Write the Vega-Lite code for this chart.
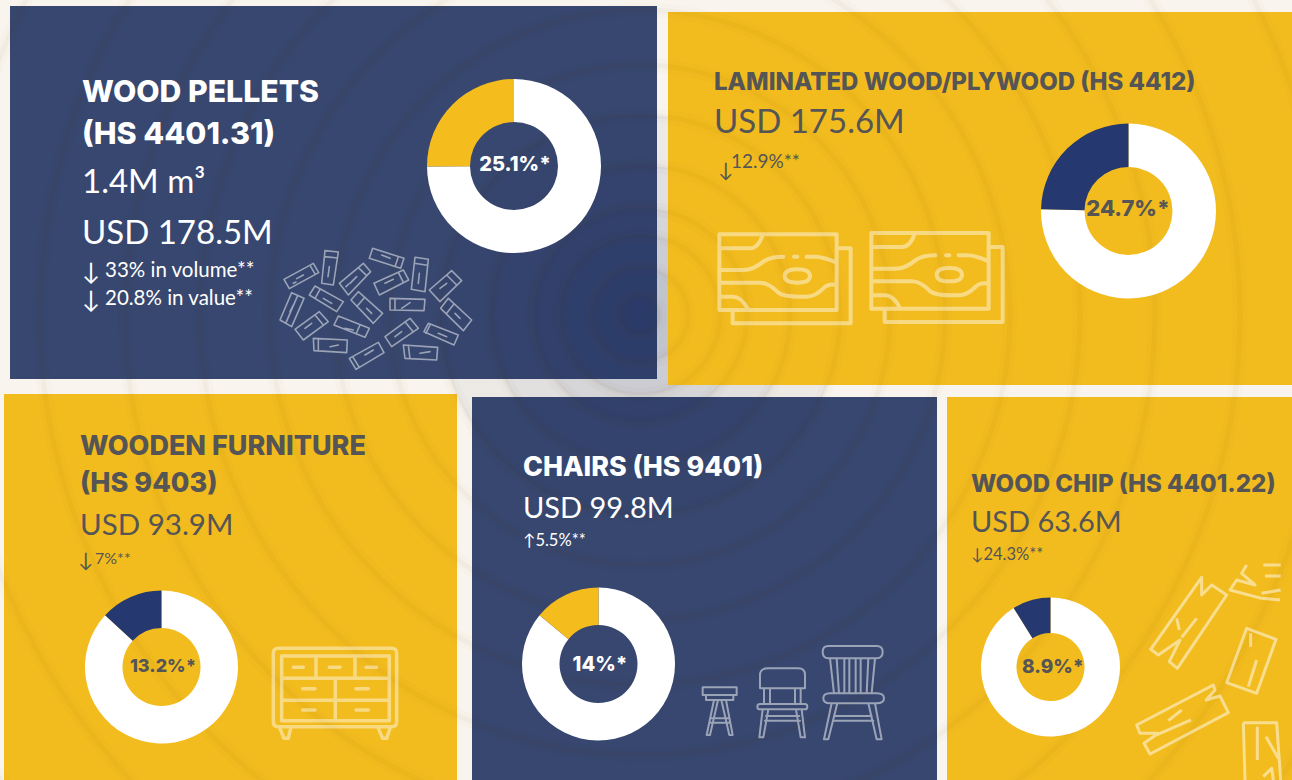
{"$schema":"https://vega.github.io/schema/vega-lite/v6.json","width":1292,"height":780,"padding":0,"autosize":{"type":"none"},"background":"#f9f5ee","config":{"view":{"stroke":null},"text":{"font":"Lato","baseline":"alphabetic"}},"encoding":{"x":{"datum":0,"type":"quantitative","scale":{"domain":[0,1292],"range":[0,1292],"nice":false,"zero":false},"axis":null},"y":{"datum":0,"type":"quantitative","scale":{"domain":[0,780],"range":[0,780],"nice":false,"zero":false},"axis":null}},"resolve":{"scale":{"color":"independent"}},"layer":[
{"data":{"values":[{"panel":"Wood pellets"}]},"mark":{"type":"rect","fill":"#37476f"},"encoding":{"x":{"datum":10},"x2":{"datum":657},"y":{"datum":6},"y2":{"datum":379}}},
{"data":{"values":[{"panel":"Chairs"}]},"mark":{"type":"rect","fill":"#37476f"},"encoding":{"x":{"datum":472},"x2":{"datum":937},"y":{"datum":397},"y2":{"datum":780}}},
{"data":{"values":[{"r":20},{"r":48},{"r":80},{"r":107},{"r":150},{"r":200}]},"mark":{"type":"point","filled":true,"fill":"#1c2c66","opacity":0.05,"clip":true},"encoding":{"x":{"datum":640},"y":{"datum":315},"size":{"field":"r","type":"quantitative","scale":{"type":"pow","exponent":2,"domain":[0,1000],"range":[0,4000000]},"legend":null}}},
{"data":{"values":[{"panel":"Laminated wood"}]},"mark":{"type":"rect","fill":"#f3bc1e"},"encoding":{"x":{"datum":668},"x2":{"datum":1292},"y":{"datum":12},"y2":{"datum":385}}},
{"data":{"values":[{"panel":"Wooden furniture"}]},"mark":{"type":"rect","fill":"#f3bc1e"},"encoding":{"x":{"datum":4},"x2":{"datum":457},"y":{"datum":394},"y2":{"datum":780}}},
{"data":{"values":[{"panel":"Wood chip"}]},"mark":{"type":"rect","fill":"#f3bc1e"},"encoding":{"x":{"datum":947},"x2":{"datum":1292},"y":{"datum":397},"y2":{"datum":780}}},
{"data":{"values":[{"r":20},{"r":48},{"r":80},{"r":107},{"r":150},{"r":200},{"r":250},{"r":305},{"r":370},{"r":440},{"r":515},{"r":600},{"r":690},{"r":790}]},"mark":{"type":"point","filled":false,"stroke":"#5a3e00","strokeOpacity":0.02,"strokeWidth":14,"opacity":1,"clip":true},"encoding":{"x":{"datum":640},"y":{"datum":315},"size":{"field":"r","type":"quantitative","scale":{"type":"pow","exponent":2,"domain":[0,1000],"range":[0,4000000]},"legend":null}}},
{"data":{"values":[{"r":20},{"r":48},{"r":80},{"r":107},{"r":150},{"r":200},{"r":250},{"r":305},{"r":370},{"r":440},{"r":515},{"r":600},{"r":690},{"r":790}]},"mark":{"type":"point","filled":false,"stroke":"#5a3e00","strokeOpacity":0.03,"strokeWidth":5,"opacity":1,"clip":true},"encoding":{"x":{"datum":640},"y":{"datum":315},"size":{"field":"r","type":"quantitative","scale":{"type":"pow","exponent":2,"domain":[0,1000],"range":[0,4000000]},"legend":null}}},
{"data":{"values":[{"icon":"pellets"}]},"mark":{"type":"point","filled":false,"opacity":1,"stroke":"#ffffff","strokeOpacity":0.5,"strokeWidth":1.6,"strokeJoin":"round","strokeCap":"round","size":0.4444,"shape":"M42,148L130,100L146,128L58,176ZM120,106L136,133M80,146L100,135M70,160L78,156M165,62L205,66L190,165L155,160ZM165,80L203,84M178,110L174,140M208,160L280,100L302,125L235,195ZM265,113L290,137M240,160L260,140M228,170L236,162M308,55L402,85L392,115L298,85ZM385,80L375,110M335,75L360,85M435,82L475,88L465,185L424,178ZM433,100L472,106M448,130L445,160M312,160L400,120L416,150L328,195ZM385,127L400,157M345,160L370,148M478,180L545,122L575,152L510,215ZM530,135L560,165M510,175L530,160M118,195L135,168L220,215L200,245ZM135,205L150,178M160,205L185,220M243,210L265,185L338,250L310,280ZM262,228L283,203M290,235L305,250M360,205L465,208L462,242L360,240ZM375,206L375,240M395,235L420,218M512,235L535,205L605,270L580,302ZM530,250L552,222M555,250L570,265M30,270L65,188L102,205L65,290ZM48,278L83,197M60,245L70,225M75,298L148,245L175,275L100,330ZM135,255L160,285M105,295L125,280M192,285L205,258L298,295L285,322ZM270,285L258,312M225,295L250,300M345,320L420,265L445,295L365,350ZM405,275L430,306M375,320L395,305M462,305L475,280L565,315L552,345ZM480,285L468,310M505,310L530,320M130,325L232,330L230,368L132,362ZM145,326L145,363M180,350L205,345M238,385L325,337L342,368L258,418ZM248,380L268,412M285,375L310,360M400,345L503,352L500,390L405,385ZM415,346L420,386M450,370L480,365"},"encoding":{"x":{"datum":270},"y":{"datum":230}}},
{"data":{"values":[{"icon":"plywood"}]},"mark":{"type":"point","filled":false,"opacity":1,"stroke":"#ffffff","strokeOpacity":0.45,"strokeWidth":4,"strokeJoin":"round","strokeCap":"round","size":0.4444,"shape":"M58,283H410V510H58ZM410,325H452V550H98V510M58,325H150Q175,325 188,285M58,390H130Q160,390 190,365Q210,350 250,350M320,350H345Q370,350 410,368M282,350H292M254,408Q254,388 292,388Q330,388 330,408Q330,428 292,428Q254,428 254,408ZM58,428H180Q205,428 235,458Q250,470 300,470H320Q345,470 370,445Q385,430 410,435M58,470H100Q125,470 145,510"},"encoding":{"x":{"datum":700},"y":{"datum":140}}},
{"data":{"values":[{"icon":"plywood"}]},"mark":{"type":"point","filled":false,"opacity":1,"stroke":"#ffffff","strokeOpacity":0.45,"strokeWidth":4,"strokeJoin":"round","strokeCap":"round","size":0.4444,"shape":"M58,283H410V510H58ZM410,325H452V550H98V510M58,325H150Q175,325 188,285M58,390H130Q160,390 190,365Q210,350 250,350M320,350H345Q370,350 410,368M282,350H292M254,408Q254,388 292,388Q330,388 330,408Q330,428 292,428Q254,428 254,408ZM58,428H180Q205,428 235,458Q250,470 300,470H320Q345,470 370,445Q385,430 410,435M58,470H100Q125,470 145,510"},"encoding":{"x":{"datum":852},"y":{"datum":138.7}}},
{"data":{"values":[{"icon":"dresser"}]},"mark":{"type":"point","filled":false,"opacity":1,"stroke":"#ffffff","strokeOpacity":0.45,"strokeWidth":3.5,"strokeJoin":"round","strokeCap":"round","size":0.4444,"shape":"M55,55H395Q410,55 410,70V275Q410,290 395,290H55Q40,290 40,275V70Q40,55 55,55ZM65,78H388V272H65ZM65,145H388M65,211H388M168,78V145M285,78V145M226,145V272M100,112H130M208,112H240M318,112H350M128,176H165M288,176H325M128,240H165M288,240H325M60,295L72,325H85L92,295M355,295L368,325H380L390,295"},"encoding":{"x":{"datum":260},"y":{"datum":630}}},
{"data":{"values":[{"icon":"chairs"}]},"mark":{"type":"point","filled":false,"opacity":1,"stroke":"#ffffff","strokeOpacity":0.5,"strokeWidth":2,"strokeJoin":"round","strokeCap":"round","size":0.4444,"shape":"M38,172H140V195H38ZM48,195H130V210H48ZM72,210L50,315H60L84,210M108,210L128,315H118L94,210M65,265H115M62,278H118M210,175V135Q210,115 235,115H325Q345,115 345,135V175ZM222,175V222M240,175V222M315,175V222M332,175V222M210,222H345Q352,222 352,230Q352,238 345,238H210Q202,238 202,230Q202,222 210,222ZM218,238L208,322H220L235,238M335,238L345,322H332L318,238M228,258H328M225,272H330M415,48H560Q578,48 578,66Q578,85 560,85H415Q398,85 398,66Q398,48 415,48ZM420,85L432,190M440,85L447,190M463,85V190M478,85V190M497,85V190M512,85V190M535,85L530,190M555,85L545,190M420,190H560Q582,190 582,205Q582,220 560,220H420Q400,220 400,205Q400,190 420,190ZM425,220L402,328H415L442,220M535,220L560,328H575L555,220M432,258H545M430,272H550"},"encoding":{"x":{"datum":690},"y":{"datum":630}}},
{"data":{"values":[{"icon":"chips"}]},"mark":{"type":"point","filled":false,"opacity":1,"stroke":"#ffffff","strokeOpacity":0.5,"strokeWidth":3,"strokeJoin":"round","size":0.4444,"shape":"M215,82L62,298L85,315L150,270L118,335L142,355L290,135L245,105L215,135ZM148,240L140,205M155,262L200,205M350,235L438,268L380,430L290,398ZM362,250V290M380,330L355,410M250,405L20,525L30,550L85,550L42,580L60,612L295,488L270,438L228,450L255,420ZM115,512L155,480M183,510L80,555M350,45L335,70L375,105L320,90L300,120L395,145L450,150M400,45H452M405,78H452M395,130L452,120M340,518H440L452,690M340,518L345,690M382,530V630M408,560L445,625M400,680L425,655L430,690"},"encoding":{"x":{"datum":1130},"y":{"datum":550}}},
{"data":{"values":[{"part":"rest","share":74.9},{"part":"share","share":25.1}]},"mark":{"type":"arc","outerRadius":87,"innerRadius":44},"encoding":{"x":{"datum":514},"y":{"datum":166},"theta":{"field":"share","type":"quantitative","scale":{"domain":[0,100]}},"order":{"field":"part"},"color":{"field":"part","type":"nominal","scale":{"domain":["rest","share"],"range":["#ffffff","#f4bc1c"]},"legend":null}}},
{"data":{"values":[{"part":"rest","share":75.3},{"part":"share","share":24.7}]},"mark":{"type":"arc","outerRadius":87.5,"innerRadius":44},"encoding":{"x":{"datum":1128.5},"y":{"datum":211},"theta":{"field":"share","type":"quantitative","scale":{"domain":[0,100]}},"order":{"field":"part"},"color":{"field":"part","type":"nominal","scale":{"domain":["rest","share"],"range":["#ffffff","#263870"]},"legend":null}}},
{"data":{"values":[{"part":"rest","share":86.8},{"part":"share","share":13.2}]},"mark":{"type":"arc","outerRadius":76.5,"innerRadius":39},"encoding":{"x":{"datum":161.5},"y":{"datum":667},"theta":{"field":"share","type":"quantitative","scale":{"domain":[0,100]}},"order":{"field":"part"},"color":{"field":"part","type":"nominal","scale":{"domain":["rest","share"],"range":["#ffffff","#263870"]},"legend":null}}},
{"data":{"values":[{"part":"rest","share":86},{"part":"share","share":14}]},"mark":{"type":"arc","outerRadius":76.5,"innerRadius":39},"encoding":{"x":{"datum":598.5},"y":{"datum":664},"theta":{"field":"share","type":"quantitative","scale":{"domain":[0,100]}},"order":{"field":"part"},"color":{"field":"part","type":"nominal","scale":{"domain":["rest","share"],"range":["#ffffff","#f4bc1c"]},"legend":null}}},
{"data":{"values":[{"part":"rest","share":91.1},{"part":"share","share":8.9}]},"mark":{"type":"arc","outerRadius":69.5,"innerRadius":34},"encoding":{"x":{"datum":1050.5},"y":{"datum":667},"theta":{"field":"share","type":"quantitative","scale":{"domain":[0,100]}},"order":{"field":"part"},"color":{"field":"part","type":"nominal","scale":{"domain":["rest","share"],"range":["#ffffff","#263870"]},"legend":null}}},
{"data":{"values":[{"label":"WOOD PELLETS"}]},"mark":{"type":"text","align":"left","font":"Inter","fontWeight":800,"fontSize":30.2,"fill":"#ffffff"},"encoding":{"x":{"datum":82},"y":{"datum":102},"text":{"field":"label"}}},
{"data":{"values":[{"label":"(HS 4401.31)"}]},"mark":{"type":"text","align":"left","font":"Inter","fontWeight":800,"fontSize":30.5,"fill":"#ffffff"},"encoding":{"x":{"datum":82},"y":{"datum":144},"text":{"field":"label"}}},
{"data":{"values":[{"label":"1.4M m³"}]},"mark":{"type":"text","align":"left","fontSize":33,"fill":"#ffffff"},"encoding":{"x":{"datum":82},"y":{"datum":193},"text":{"field":"label"}}},
{"data":{"values":[{"label":"USD 178.5M"}]},"mark":{"type":"text","align":"left","fontSize":33,"fill":"#ffffff"},"encoding":{"x":{"datum":82},"y":{"datum":244},"text":{"field":"label"}}},
{"data":{"values":[{"label":"↓"}]},"mark":{"type":"text","align":"left","fontSize":24,"fill":"#ffffff"},"encoding":{"x":{"datum":82},"y":{"datum":280},"text":{"field":"label"}}},
{"data":{"values":[{"label":"33% in volume**"}]},"mark":{"type":"text","align":"left","fontSize":20.5,"fill":"#ffffff"},"encoding":{"x":{"datum":105},"y":{"datum":277},"text":{"field":"label"}}},
{"data":{"values":[{"label":"↓"}]},"mark":{"type":"text","align":"left","fontSize":24,"fill":"#ffffff"},"encoding":{"x":{"datum":82},"y":{"datum":308},"text":{"field":"label"}}},
{"data":{"values":[{"label":"20.8% in value**"}]},"mark":{"type":"text","align":"left","fontSize":20.5,"fill":"#ffffff"},"encoding":{"x":{"datum":105},"y":{"datum":305},"text":{"field":"label"}}},
{"data":{"values":[{"label":"25.1%*"}]},"mark":{"type":"text","align":"center","font":"Inter","fontWeight":800,"fontSize":20,"fill":"#ffffff"},"encoding":{"x":{"datum":515},"y":{"datum":171},"text":{"field":"label"}}},
{"data":{"values":[{"label":"LAMINATED WOOD/PLYWOOD (HS 4412)"}]},"mark":{"type":"text","align":"left","font":"Inter","fontWeight":800,"fontSize":24,"fill":"#555555"},"encoding":{"x":{"datum":714},"y":{"datum":90},"text":{"field":"label"}}},
{"data":{"values":[{"label":"USD 175.6M"}]},"mark":{"type":"text","align":"left","fontSize":33,"fill":"#555555"},"encoding":{"x":{"datum":714},"y":{"datum":133},"text":{"field":"label"}}},
{"data":{"values":[{"label":"↓"}]},"mark":{"type":"text","align":"left","fontSize":20,"fill":"#555555"},"encoding":{"x":{"datum":718},"y":{"datum":177},"text":{"field":"label"}}},
{"data":{"values":[{"label":"12.9%**"}]},"mark":{"type":"text","align":"left","fontSize":19,"fill":"#555555"},"encoding":{"x":{"datum":731},"y":{"datum":168},"text":{"field":"label"}}},
{"data":{"values":[{"label":"24.7%*"}]},"mark":{"type":"text","align":"center","font":"Inter","fontWeight":800,"fontSize":22,"fill":"#555555"},"encoding":{"x":{"datum":1128},"y":{"datum":216},"text":{"field":"label"}}},
{"data":{"values":[{"label":"WOODEN FURNITURE"}]},"mark":{"type":"text","align":"left","font":"Inter","fontWeight":800,"fontSize":27,"fill":"#555555"},"encoding":{"x":{"datum":80},"y":{"datum":455},"text":{"field":"label"}}},
{"data":{"values":[{"label":"(HS 9403)"}]},"mark":{"type":"text","align":"left","font":"Inter","fontWeight":800,"fontSize":27,"fill":"#555555"},"encoding":{"x":{"datum":80},"y":{"datum":492},"text":{"field":"label"}}},
{"data":{"values":[{"label":"USD 93.9M"}]},"mark":{"type":"text","align":"left","fontSize":29.5,"fill":"#555555"},"encoding":{"x":{"datum":80},"y":{"datum":535},"text":{"field":"label"}}},
{"data":{"values":[{"label":"↓"}]},"mark":{"type":"text","align":"left","fontSize":20,"fill":"#555555"},"encoding":{"x":{"datum":78},"y":{"datum":567},"text":{"field":"label"}}},
{"data":{"values":[{"label":"7%**"}]},"mark":{"type":"text","align":"left","fontSize":16,"fill":"#555555"},"encoding":{"x":{"datum":95},"y":{"datum":564},"text":{"field":"label"}}},
{"data":{"values":[{"label":"13.2%*"}]},"mark":{"type":"text","align":"center","font":"Inter","fontWeight":800,"fontSize":18,"fill":"#555555"},"encoding":{"x":{"datum":163},"y":{"datum":672},"text":{"field":"label"}}},
{"data":{"values":[{"label":"CHAIRS (HS 9401)"}]},"mark":{"type":"text","align":"left","font":"Inter","fontWeight":800,"fontSize":26.8,"fill":"#ffffff"},"encoding":{"x":{"datum":523},"y":{"datum":476},"text":{"field":"label"}}},
{"data":{"values":[{"label":"USD 99.8M"}]},"mark":{"type":"text","align":"left","fontSize":29,"fill":"#ffffff"},"encoding":{"x":{"datum":523},"y":{"datum":518},"text":{"field":"label"}}},
{"data":{"values":[{"label":"↑5.5%**"}]},"mark":{"type":"text","align":"left","fontSize":16.5,"fill":"#ffffff"},"encoding":{"x":{"datum":523},"y":{"datum":546},"text":{"field":"label"}}},
{"data":{"values":[{"label":"14%*"}]},"mark":{"type":"text","align":"center","font":"Inter","fontWeight":800,"fontSize":20,"fill":"#ffffff"},"encoding":{"x":{"datum":600},"y":{"datum":671},"text":{"field":"label"}}},
{"data":{"values":[{"label":"WOOD CHIP (HS 4401.22)"}]},"mark":{"type":"text","align":"left","font":"Inter","fontWeight":800,"fontSize":24,"fill":"#555555"},"encoding":{"x":{"datum":971},"y":{"datum":492},"text":{"field":"label"}}},
{"data":{"values":[{"label":"USD 63.6M"}]},"mark":{"type":"text","align":"left","fontSize":29,"fill":"#555555"},"encoding":{"x":{"datum":971},"y":{"datum":532},"text":{"field":"label"}}},
{"data":{"values":[{"label":"↓24.3%**"}]},"mark":{"type":"text","align":"left","fontSize":16.5,"fill":"#555555"},"encoding":{"x":{"datum":971},"y":{"datum":560},"text":{"field":"label"}}},
{"data":{"values":[{"label":"8.9%*"}]},"mark":{"type":"text","align":"center","font":"Inter","fontWeight":800,"fontSize":19,"fill":"#555555"},"encoding":{"x":{"datum":1053},"y":{"datum":673},"text":{"field":"label"}}}
]}
